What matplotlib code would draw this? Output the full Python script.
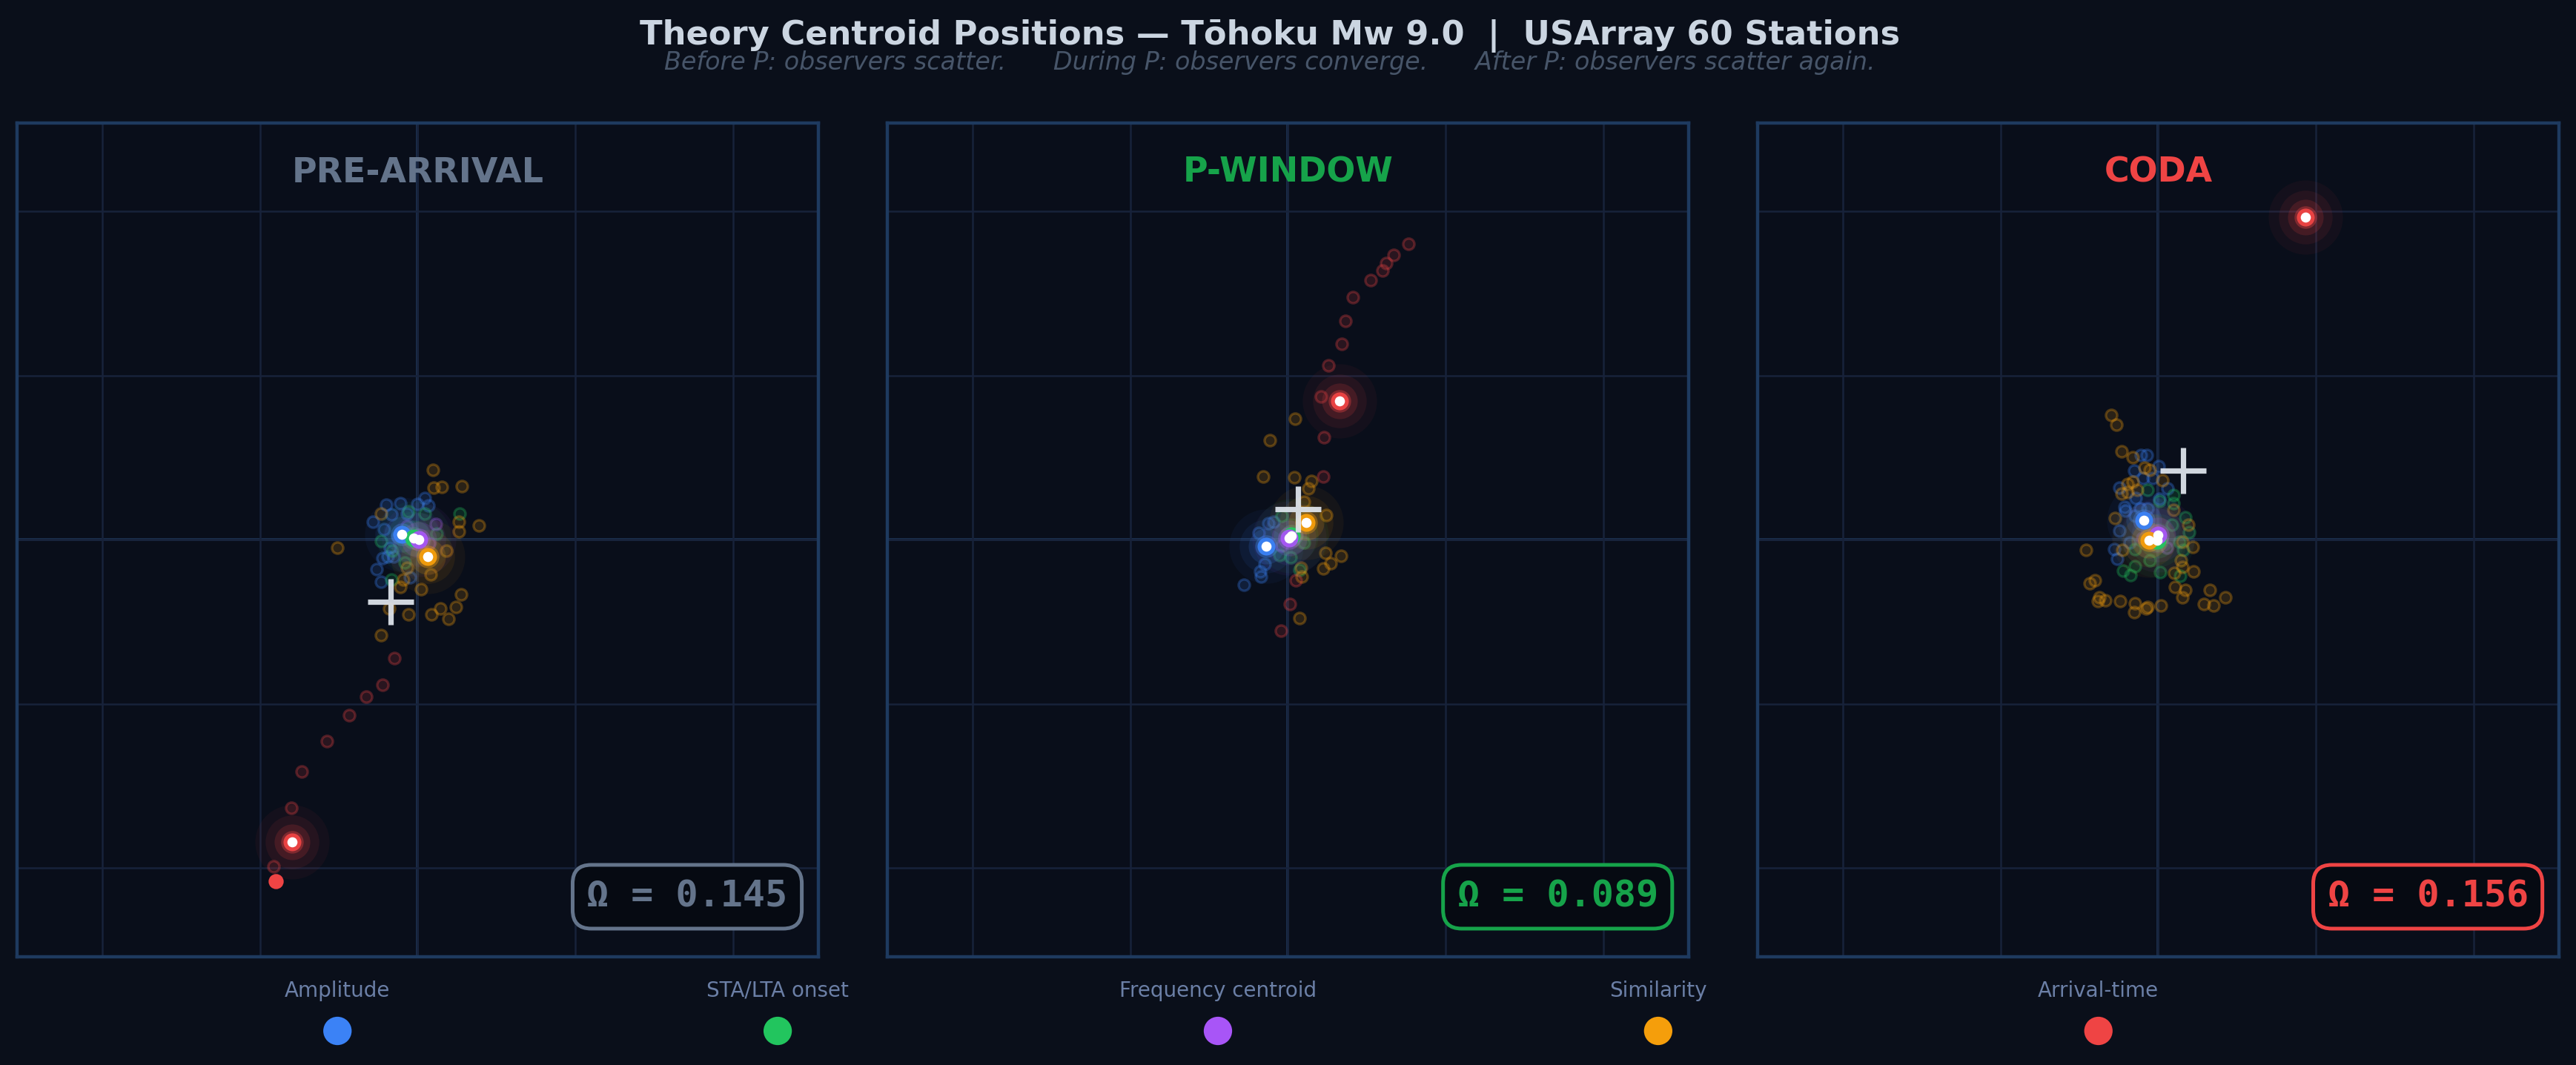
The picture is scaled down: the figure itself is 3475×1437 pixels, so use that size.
import numpy as np
import matplotlib
matplotlib.use('Agg')
import matplotlib.pyplot as plt

BG = '#0a0f1a'
AX_BG = '#090e1a'
SPINE = '#1e3a5f'
GRID = '#17223a'
AXIS0 = '#1f3556'

methods = ['Amplitude', 'STA/LTA onset', 'Frequency centroid', 'Similarity', 'Arrival-time']
method_colors = ['#3b82f6', '#22c55e', '#a855f7', '#f59e0b', '#ef4444']

panel_names = ['PRE-ARRIVAL', 'P-WINDOW', 'CODA']
panel_colors = ['#64748b', '#16a34a', '#ef4444']
omega_values = [0.145, 0.089, 0.156]

# centroid of each method, per window (x, y)
pre_centroids = [(-0.102, 0.034), (-0.027, 0.013), (0.008, 0.003), (0.063, -0.102), (-0.795, -1.842)]
pw_centroids = [(-0.139, -0.040), (0.022, 0.024), (0.006, 0.009), (0.114, 0.105), (0.326, 0.848)]
coda_centroids = [(-0.089, 0.118), (-0.006, -0.003), (-0.002, 0.027), (-0.058, -0.003), (0.934, 1.964)]

# station-level positions (only the ones that can be told apart)
pre_amp = [(-0.197, 0.213), (-0.108, 0.225), (-0.167, 0.157), (-0.285, 0.108), (-0.214, 0.063),
           (-0.003, 0.220), (0.044, 0.253), (0.067, 0.208), (-0.261, -0.180), (-0.233, -0.256),
           (-0.222, -0.109), (-0.191, -0.102), (-0.152, -0.102), (-0.128, 0.018), (-0.066, 0.160),
           (-0.050, -0.229), (-0.175, -0.049)]
pre_sta = [(0.266, 0.160), (-0.233, -0.007), (-0.160, -0.064), (0.044, 0.160), (-0.058, 0.175),
           (-0.167, -0.241), (-0.081, -0.136), (0.122, 0.040)]
pre_freq = [(0.114, 0.097), (0.075, -0.019), (-0.066, 0.085)]
pre_sim = [(0.095, 0.426), (0.100, 0.318), (0.152, 0.322), (0.279, 0.328), (0.263, 0.108),
           (0.263, 0.052), (0.391, 0.088), (-0.510, -0.049), (-0.233, 0.160), (0.180, -0.064),
           (-0.069, -0.169), (-0.108, -0.289), (0.020, -0.301), (0.081, -0.210), (0.275, -0.334),
           (0.142, -0.417), (0.243, -0.409), (0.089, -0.454), (0.194, -0.481), (-0.056, -0.454),
           (-0.182, -0.417), (-0.233, -0.582), (-0.092, -0.240)]
pre_arr = [(-0.148, -0.719), (-0.221, -0.884), (-0.326, -0.957), (-0.436, -1.066), (-0.574, -1.224),
           (-0.735, -1.413), (-0.799, -1.634), (-0.913, -1.990)]
pre_outlier = [(-0.899, -2.079)]

pw_amp = [(-0.280, -0.273), (-0.171, -0.225), (-0.174, -0.193), (-0.147, -0.145), (-0.186, 0.042),
          (-0.124, 0.102), (-0.092, 0.109)]
pw_sta = [(0.017, -0.108), (0.072, -0.183), (-0.038, 0.147), (0.103, -0.018), (-0.053, -0.093)]
pw_freq = [(0.056, 0.027), (-0.038, -0.033)]
pw_sim = [(-0.116, 0.609), (-0.158, 0.387), (0.038, 0.382), (0.147, 0.357), (0.131, 0.312),
          (0.103, 0.234), (0.241, 0.150), (0.236, -0.078), (0.338, -0.097), (0.268, -0.142),
          (0.225, -0.175), (0.080, -0.168), (0.088, -0.223), (0.072, -0.477), (0.044, 0.739)]
pw_arr = [(0.765, 1.802), (0.671, 1.736), (0.621, 1.686), (0.597, 1.640), (0.523, 1.581),
          (0.409, 1.479), (0.366, 1.333), (0.339, 1.195), (0.255, 1.063), (0.208, 0.875),
          (0.228, 0.627), (0.221, 0.386), (0.050, -0.248), (0.010, -0.389), (-0.047, -0.554)]

coda_amp = [(-0.108, 0.517), (-0.074, 0.517), (-0.152, 0.420), (0.005, 0.447), (-0.097, 0.375),
            (-0.034, 0.375), (-0.246, 0.319), (0.059, 0.312), (-0.144, 0.255), (0.009, 0.249),
            (-0.214, 0.199), (-0.207, 0.177), (-0.147, 0.147), (-0.246, 0.057), (-0.280, -0.055),
            (-0.260, -0.115), (-0.178, -0.018), (-0.116, 0.192), (-0.069, 0.192)]
coda_sta = [(-0.069, 0.304), (0.095, 0.271), (0.099, 0.222), (0.174, 0.136), (0.197, 0.045),
            (0.135, -0.010), (0.158, -0.063), (-0.222, -0.186), (-0.175, -0.216), (-0.147, -0.160),
            (0.013, -0.198), (0.138, -0.220), (-0.053, -0.123), (-0.147, -0.055), (0.088, 0.094),
            (0.009, 0.237)]
coda_freq = [(0.056, -0.048), (-0.100, 0.012)]
coda_sim = [(-0.300, 0.762), (-0.263, 0.702), (-0.230, 0.540), (-0.163, 0.504), (-0.085, 0.439),
            (-0.053, 0.427), (0.028, 0.364), (-0.194, 0.342), (-0.160, 0.354), (-0.233, 0.282),
            (-0.194, 0.289), (-0.131, 0.304), (-0.272, 0.132), (0.095, 0.181), (0.192, 0.091),
            (0.221, -0.045), (0.153, -0.010), (-0.457, -0.063), (-0.401, -0.246), (-0.433, -0.265),
            (-0.374, -0.351), (-0.382, -0.375), (-0.335, -0.370), (-0.241, -0.375), (-0.147, -0.385),
            (-0.152, -0.441), (-0.077, -0.418), (-0.069, -0.408), (0.017, -0.400), (0.106, -0.288),
            (0.174, -0.303), (0.155, -0.351), (0.103, -0.201), (0.142, -0.126), (0.153, -0.163),
            (0.224, -0.193), (0.326, -0.306), (0.291, -0.393), (0.349, -0.400), (0.427, -0.351),
            (-0.225, -0.063)]
coda_arr = []

panels = [
    (pre_centroids, [pre_amp, pre_sta, pre_freq, pre_sim, pre_arr], pre_outlier),
    (pw_centroids, [pw_amp, pw_sta, pw_freq, pw_sim, pw_arr], []),
    (coda_centroids, [coda_amp, coda_sta, coda_freq, coda_sim, coda_arr], []),
]

LIM = 2.54

fig = plt.figure(figsize=(17.375, 7.185), dpi=200, facecolor=BG)

lefts = [0.0066, 0.3445, 0.6823]
for k, (cents, stations, outlier) in enumerate(panels):
    ax = fig.add_axes([lefts[k], 0.1016, 0.311, 0.783])
    ax.set_facecolor(AX_BG)
    ax.set_xlim(-LIM, LIM)
    ax.set_ylim(-LIM, LIM)
    ax.set_xticks([-2, -1, 0, 1, 2])
    ax.set_yticks([-2, -1, 0, 1, 2])
    ax.tick_params(length=0, labelbottom=False, labelleft=False)
    ax.grid(True, color=GRID, lw=0.9, zorder=0)
    ax.axhline(0, color=AXIS0, lw=1.3, zorder=0.5)
    ax.axvline(0, color=AXIS0, lw=1.3, zorder=0.5)
    for sp in ax.spines.values():
        sp.set_color(SPINE)
        sp.set_linewidth(1.6)

    # station points
    for pts, col in zip(stations, method_colors):
        if len(pts) == 0:
            continue
        p = np.array(pts)
        ax.scatter(p[:, 0], p[:, 1], s=30, facecolor=matplotlib.colors.to_rgba(col, 0.14),
                   edgecolor=matplotlib.colors.to_rgba(col, 0.30), linewidth=1.2, zorder=2)
    if outlier:
        p = np.array(outlier)
        ax.scatter(p[:, 0], p[:, 1], s=40, color=method_colors[4], zorder=2.5)

    # method centroids with glow
    for (cx, cy), col in zip(cents, method_colors):
        for s, a in [(1300, 0.05), (680, 0.08), (300, 0.16), (120, 0.35)]:
            ax.scatter(cx, cy, s=s, color=col, alpha=a, lw=0, zorder=3)
        ax.scatter(cx, cy, s=75, color=col, alpha=0.95, lw=0, zorder=4)
        ax.scatter(cx, cy, s=24, color='white', lw=0, zorder=5)

    # theory centroid = mean of method centroids
    c = np.array(cents).mean(axis=0)
    ax.plot(c[0], c[1], marker='+', ms=22, mew=2.6, color='#e2e8f0', alpha=0.92, zorder=6)

    ax.text(0.5, 0.94, panel_names[k], transform=ax.transAxes, ha='center', va='center',
            fontsize=16.5, fontweight='bold', color=panel_colors[k])
    ax.text(0.962, 0.072, f'Ω = {omega_values[k]:.3f}', transform=ax.transAxes,
            ha='right', va='center', fontsize=18, fontweight='bold', family='DejaVu Sans Mono',
            color=panel_colors[k], zorder=7,
            bbox=dict(boxstyle='round,pad=0.38,rounding_size=0.5', facecolor='#060a12',
                      edgecolor=panel_colors[k], linewidth=1.8))

fig.text(0.493, 0.966, 'Theory Centroid Positions — Tōhoku Mw 9.0  |  USArray 60 Stations',
         ha='center', va='center', fontsize=16.1, fontweight='bold', color='#cbd5e1')
fig.text(0.493, 0.941, 'Before P: observers scatter.      During P: observers converge.      '
         'After P: observers scatter again.',
         ha='center', va='center', fontsize=12, style='italic', color='#475569')

# legend: label above marker
lax = fig.add_axes([0, 0, 1, 0.1])
lax.set_xlim(0, 1)
lax.set_ylim(0, 0.1)
lax.axis('off')
leg_x = 0.131 + 0.1709 * np.arange(len(methods))
lax.scatter(leg_x, np.full(len(methods), 0.032), s=190, c=method_colors, lw=0)
for x, name in zip(leg_x, methods):
    lax.text(x, 0.0696, name, ha='center', va='center', fontsize=10, color='#6b7fa6')

fig.savefig('out.png', dpi=200, facecolor=BG)
